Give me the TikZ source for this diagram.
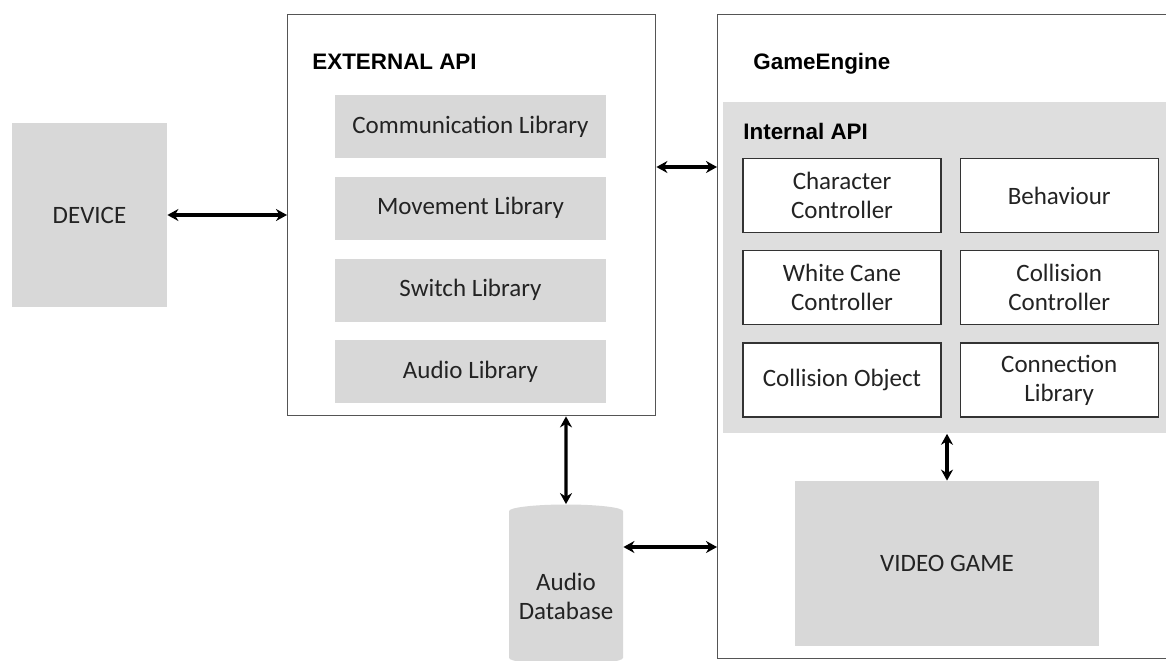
\documentclass[tikz,border=0pt]{standalone}
\usepackage{fontspec}
\setmainfont{Carlito}
\newfontfamily\headfont{Liberation Sans}
\usetikzlibrary{arrows.meta,positioning,shapes.geometric}
\definecolor{boxgray}{RGB}{216,216,216}
\definecolor{panelgray}{RGB}{222,222,222}
\definecolor{edgegray}{RGB}{85,85,85}
\definecolor{inkgray}{RGB}{35,35,35}
\newcommand\bodyfont{\fontsize{12.5}{14.5}\selectfont}
\tikzset{
  frame/.style={rectangle, draw=edgegray, line width=0.7pt, fill=white, anchor=north west},
  block/.style={rectangle, fill=boxgray, align=center, font=\bodyfont, text=inkgray, inner sep=0pt},
  libbox/.style={block, minimum width=135.5pt, minimum height=31.5pt},
  module/.style={rectangle, draw=black!80, line width=0.6pt, fill=white, align=center,
                 font=\bodyfont, text=inkgray, minimum width=99pt, minimum height=37pt, inner sep=0pt},
  title/.style={font=\headfont\bfseries\fontsize{11.2}{14}\selectfont, anchor=west, inner sep=0pt},
  arrow/.style={{Stealth[length=5.5pt,width=6pt]}-{Stealth[length=5.5pt,width=6pt]}, line width=1.7pt},
}

\begin{document}
\begin{tikzpicture}[x=0.5pt, y=-0.5pt]
\useasboundingbox (0,0) rectangle (1166,660);

% Device on the far left
\node[block, minimum width=77.5pt, minimum height=92pt] (device) at (89.5,215) {DEVICE};

% External API with its libraries
\node[frame, minimum width=184pt, minimum height=200.5pt] (extapi) at (287,14) {};
\node[title] (exttitle) at (312,62) {EXTERNAL API};
\node[libbox] (comlib) at (470.5,126.5) {Communication Library};
\node[libbox, below=9pt of comlib] (movlib) {Movement Library};
\node[libbox, below=9pt of movlib] (swlib) {Switch Library};
\node[libbox, below=9pt of swlib] (audlib) {Audio Library};

% Game engine, internal API and the game itself
\node[frame, minimum width=225pt, minimum height=322pt] (engine) at (717,14) {};
\node[title] (enginetitle) at (753,64) {GameEngine};
\node[rectangle, fill=panelgray, anchor=north west, minimum width=222pt, minimum height=165.5pt,
      inner sep=0pt] (intapi) at (723,102) {};
\node[title] (inttitle) at (743,131) {Internal API};
\node[module] (charctl) at (842,195.5) {Character\\Controller};
\node[module, right=9pt of charctl] (behav) {Behaviour};
\node[module, below=8.5pt of charctl] (canectl) {White Cane\\Controller};
\node[module, below=8.5pt of behav] (collctl) {Collision\\Controller};
\node[module, below=8.5pt of canectl] (collobj) {Collision Object};
\node[module, below=8.5pt of collctl] (connlib) {Connection\\Library};
\node[block, minimum width=152pt, minimum height=82.5pt] (video) at (947,563.5) {VIDEO GAME};

% Audio database
\node[cylinder, shape border rotate=90, aspect=0.14, fill=boxgray, draw=none,
      minimum width=57pt, minimum height=80pt, align=center, font=\bodyfont, text=inkgray,
      inner sep=0pt] (auddb) at (566,588) {\\[3pt]Audio\\Database};

% Links
\coordinate (linkrow) at (0,167);
\coordinate (dbrow) at (0,547);
\draw[arrow] (device.east) -- (device.east -| extapi.west);
\draw[arrow] (extapi.east |- linkrow) -- (engine.west |- linkrow);
\draw[arrow] (extapi.south -| auddb) -- (auddb.north);
\draw[arrow] (auddb.east |- dbrow) -- (engine.west |- dbrow);
\draw[arrow] (intapi.south -| video) -- (video.north);
\end{tikzpicture}
\end{document}
